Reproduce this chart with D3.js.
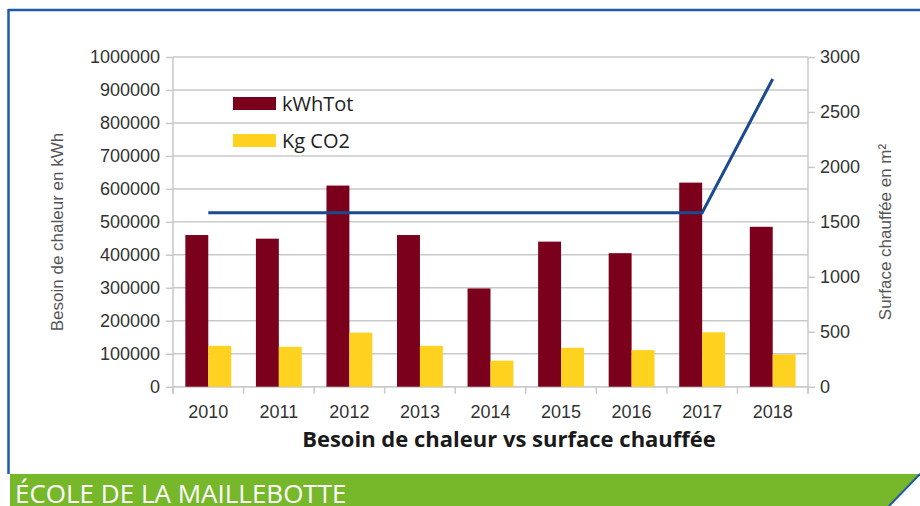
<!DOCTYPE html>
<html>
<head>
<meta charset="utf-8">
<script src="https://cdn.jsdelivr.net/npm/d3@7"></script>
<style>
  body { margin: 0; background: #fff; }
  svg { display: block; }
</style>
</head>
<body>
<div id="chart"></div>
<script>
// data
const years = ["2010", "2011", "2012", "2013", "2014", "2015", "2016", "2017", "2018"];
const kwhTot = [460000, 449000, 610000, 460000, 298000, 440000, 405000, 619000, 485000];
const kgCO2 = [124000, 121000, 164000, 124000, 79000, 118000, 111000, 165000, 98000];
const surface = [1583, 1583, 1583, 1583, 1583, 1583, 1583, 1583, 2800];
const seriesNames = ["kWhTot", "Kg CO2"];
const seriesColors = ["#7b001c", "#ffd21f"];

const w = 920, h = 506;
const plot = { left: 173, right: 808, top: 57, bottom: 386.7 };

let svg = d3.select('#chart').append('svg').attr('width', w).attr('height', h);

// frame + banner
svg.append('line').attr('x1', 8.5).attr('x2', w).attr('y1', 10).attr('y2', 10)
  .attr('stroke', '#1f5aa6').attr('stroke-width', 2.5);
svg.append('line').attr('x1', 8.5).attr('x2', 8.5).attr('y1', 9).attr('y2', 474)
  .attr('stroke', '#1f5aa6').attr('stroke-width', 2.5);
svg.append('polygon')
  .attr('points', `10,474 ${w},474 889,${h} 10,${h}`)
  .attr('fill', '#77b82b');
svg.append('line').attr('x1', w).attr('y1', 474).attr('x2', 889).attr('y2', h)
  .attr('stroke', '#1f5aa6').attr('stroke-width', 2);
svg.append('text').attr('x', 15).attr('y', 503)
  .attr('font-family', 'Open Sans').attr('font-size', 26).attr('fill', '#fff')
  .text('ÉCOLE DE LA MAILLEBOTTE');

// scales
let x = d3.scaleBand().domain(years).range([plot.left, plot.right])
  .paddingInner(0.35).paddingOuter(0.175);
let x1 = d3.scaleBand().domain(seriesNames).range([0, x.bandwidth()]);
let y = d3.scaleLinear().domain([0, 1000000]).range([plot.bottom, plot.top]);
let y2 = d3.scaleLinear().domain([0, 3000]).range([plot.bottom, plot.top]);

const gridColor = '#c9c9c9';
const tickFont = 'Liberation Sans';

// gridlines
svg.append('g').selectAll('line').data(y.ticks(10)).join('line')
  .attr('x1', plot.left).attr('x2', plot.right)
  .attr('y1', d => y(d)).attr('y2', d => y(d))
  .attr('stroke', gridColor).attr('stroke-width', 1.5);

// left axis
let leftAxis = svg.append('g').attr('transform', `translate(${plot.left},0)`)
  .call(d3.axisLeft(y).ticks(10).tickSize(7).tickPadding(6).tickFormat(d3.format('d')));
leftAxis.select('.domain').remove();
leftAxis.append('line').attr('y1', plot.top).attr('y2', plot.bottom + 7)
  .attr('stroke', gridColor).attr('stroke-width', 1.5);

// right axis
let rightAxis = svg.append('g').attr('transform', `translate(${plot.right},0)`)
  .call(d3.axisRight(y2).ticks(6).tickSize(7).tickPadding(5).tickFormat(d3.format('d')));
rightAxis.select('.domain').remove();
rightAxis.append('line').attr('y1', plot.top).attr('y2', plot.bottom + 7)
  .attr('stroke', gridColor).attr('stroke-width', 1.5);

[leftAxis, rightAxis].forEach(g => {
  g.selectAll('.tick line').attr('stroke', gridColor).attr('stroke-width', 1.5);
  g.selectAll('.tick text').attr('font-family', tickFont).attr('font-size', 18)
    .attr('fill', '#333');
});

// bottom axis: boundaries ticks
let boundaries = d3.range(years.length + 1).map(i => x.range()[0] + i * x.step());
svg.append('line').attr('x1', plot.left).attr('x2', plot.right)
  .attr('y1', plot.bottom).attr('y2', plot.bottom)
  .attr('stroke', gridColor).attr('stroke-width', 1.5);
svg.append('g').selectAll('line').data(boundaries).join('line')
  .attr('x1', d => d).attr('x2', d => d)
  .attr('y1', plot.bottom).attr('y2', plot.bottom + 7)
  .attr('stroke', gridColor).attr('stroke-width', 1.5);
svg.append('g').selectAll('text').data(years).join('text')
  .attr('x', d => x(d) + x.bandwidth() / 2).attr('y', 418)
  .attr('text-anchor', 'middle')
  .attr('font-family', tickFont).attr('font-size', 18).attr('fill', '#333')
  .text(d => d);

// bars
let seriesVals = [kwhTot, kgCO2];
seriesNames.forEach((name, s) => {
  svg.append('g').selectAll('rect').data(years).join('rect')
    .attr('x', d => x(d) + x1(name))
    .attr('width', x1.bandwidth())
    .attr('y', (d, i) => y(seriesVals[s][i]))
    .attr('height', (d, i) => plot.bottom - y(seriesVals[s][i]))
    .attr('fill', seriesColors[s]);
});

// surface line
let line = d3.line()
  .x((d, i) => x(years[i]) + x.bandwidth() / 2)
  .y(d => y2(d));
svg.append('path').datum(surface)
  .attr('d', line).attr('fill', 'none')
  .attr('stroke', '#1b4a8e').attr('stroke-width', 3);

// legend
let legend = svg.append('g').attr('transform', 'translate(233,97)');
seriesNames.forEach((name, i) => {
  legend.append('rect').attr('x', 0).attr('y', i * 37).attr('width', 43).attr('height', 13)
    .attr('fill', seriesColors[i]);
  legend.append('text').attr('x', 49).attr('y', i * 37 + 14)
    .attr('font-family', 'Open Sans').attr('font-size', 20).attr('fill', '#222')
    .text(name);
});

// axis titles
svg.append('text')
  .attr('transform', 'translate(63,232) rotate(-90)')
  .attr('text-anchor', 'middle')
  .attr('font-family', tickFont).attr('font-size', 17).attr('fill', '#555')
  .text('Besoin de chaleur en kWh');
svg.append('text')
  .attr('transform', 'translate(891,232) rotate(-90)')
  .attr('text-anchor', 'middle')
  .attr('font-family', tickFont).attr('font-size', 17).attr('fill', '#555')
  .text('Surface chauffée en m²');

// chart title
svg.append('text')
  .attr('x', 509).attr('y', 447)
  .attr('text-anchor', 'middle')
  .attr('font-family', 'Open Sans').attr('font-weight', 'bold').attr('font-size', 22)
  .attr('fill', '#1a1a1a')
  .text('Besoin de chaleur vs surface chauffée');
</script>
</body>
</html>
